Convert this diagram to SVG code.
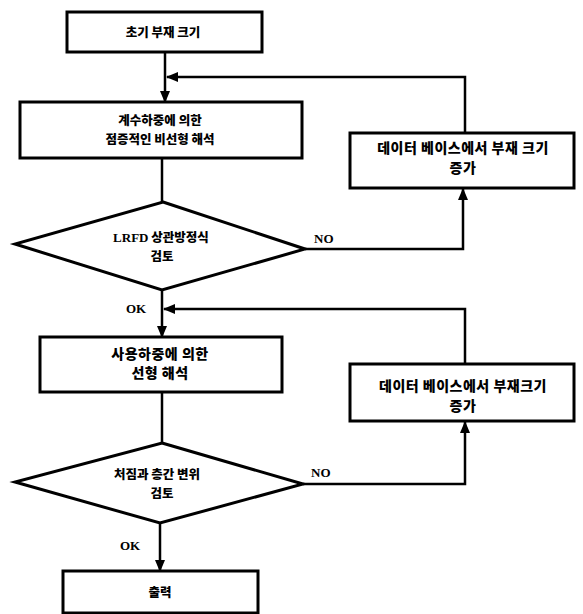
<svg xmlns="http://www.w3.org/2000/svg" width="583" height="614" viewBox="0 0 583 614">
<defs>
<marker id="ah" viewBox="0 0 12 10" refX="11" refY="5" markerWidth="12" markerHeight="10" markerUnits="userSpaceOnUse" orient="auto">
<path d="M0,0 L12,5 L0,10 Z" fill="#000"/>
</marker>
<style>
.box{fill:#fff;stroke:#000;stroke-width:3}
.ln{fill:none;stroke:#000;stroke-width:2.5}
.arr{fill:none;stroke:#000;stroke-width:2.5;marker-end:url(#ah)}
.k{font-family:"Noto Sans CJK KR","Noto Sans",sans-serif;font-weight:900;font-size:12.5px;text-anchor:middle;fill:#000}
.kw{font-size:14px;letter-spacing:0.5px}
.lat{font-family:"Liberation Serif",serif;font-weight:bold;font-size:13px;fill:#000}
</style>
</defs>
<rect width="583" height="614" fill="#fff"/>
<g id="connectors">
<path class="arr" d="M165,52 L165,102"/>
<path class="arr" d="M465,133 L465,77 L167,77"/>
<path class="ln" d="M162,158 L162,202"/>
<path class="arr" d="M305,249 L463,249 L463,189"/>
<path class="arr" d="M162,290 L162,337"/>
<path class="arr" d="M465,364 L465,309 L164,309"/>
<path class="ln" d="M162,392 L162,443"/>
<path class="arr" d="M303,484 L465,484 L465,422"/>
<path class="arr" d="M160,523 L160,571"/>
</g>
<g id="n1"><rect class="box" x="67" y="12" width="195" height="40"/><text class="k" x="163" y="37">초기 부재 크기</text></g>
<g id="n2"><rect class="box" x="20" y="102" width="282" height="56"/><text class="k" x="160" y="125">계수하중에 의한</text><text class="k" x="160" y="144">점증적인 비선형 해석</text></g>
<g id="n3"><rect class="box" x="350" y="133" width="224" height="55"/><text class="k kw" x="463" y="153">데이터 베이스에서 부재 크기</text><text class="k kw" x="463" y="173">증가</text></g>
<g id="d1"><polygon class="box" points="163,202 305,249 162,290 15,244"/><text class="k" x="161" y="242"><tspan class="lat" style="font-size:13px">LRFD</tspan> 상관방정식</text><text class="k" x="162" y="261">검토</text></g>
<g id="n4"><rect class="box" x="40" y="337" width="242" height="55"/><text class="k kw" x="160" y="359">사용하중에 의한</text><text class="k kw" x="160" y="378">선형 해석</text></g>
<g id="n5"><rect class="box" x="350" y="364" width="224" height="57"/><text class="k kw" x="463" y="391">데이터 베이스에서 부재크기</text><text class="k kw" x="463" y="411">증가</text></g>
<g id="d2"><polygon class="box" points="162,443 303,484 160,523 15,482"/><text class="k" x="157" y="479">처짐과 층간 변위</text><text class="k" x="162" y="498">검토</text></g>
<g id="n6"><rect class="box" x="63" y="571" width="195" height="42"/><text class="k" x="160" y="597">출력</text></g>
<g id="labels">
<text class="lat" x="314" y="243">NO</text>
<text class="lat" x="126" y="313">OK</text>
<text class="lat" x="311" y="477">NO</text>
<text class="lat" x="120" y="550">OK</text>
</g>
</svg>
